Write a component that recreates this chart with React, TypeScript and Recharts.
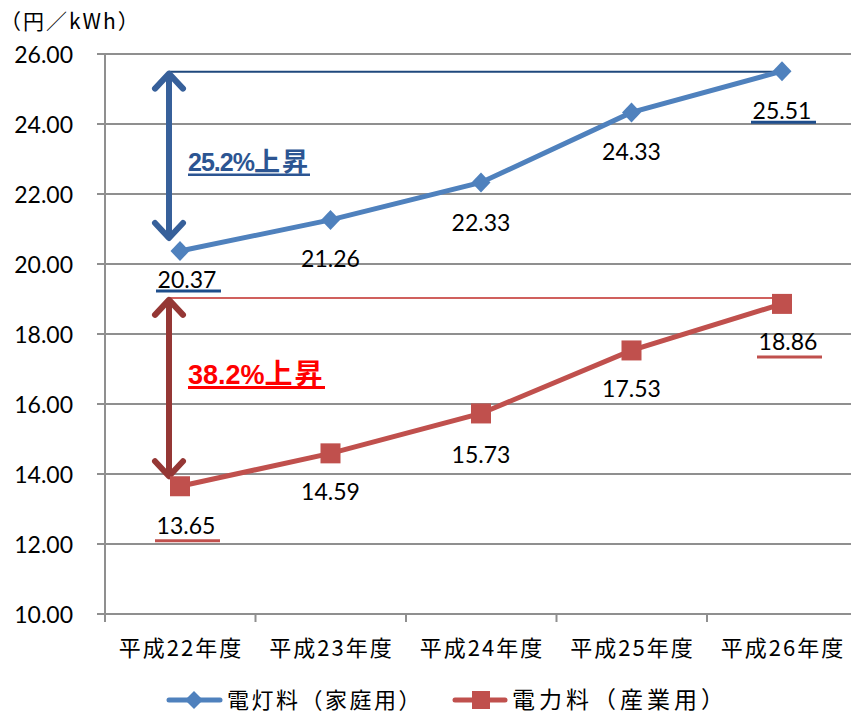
import React from 'react';
import { LineChart, Line, XAxis, YAxis, CartesianGrid, Legend, ReferenceLine } from 'recharts';

// ---- data ----
const categories = ['平成22年度', '平成23年度', '平成24年度', '平成25年度', '平成26年度'];
const residentialRates = [20.37, 21.26, 22.33, 24.33, 25.51];
const industrialRates = [13.65, 14.59, 15.73, 17.53, 18.86];
const yTicks = [10, 12, 14, 16, 18, 20, 22, 24, 26];
const seriesNames = ['電灯料（家庭用）', '電力料（産業用）'];
const unitLabel = '（円／kWh）';
const riseSuffix = '上昇';

const data = categories.map((year, i) => ({
  year,
  residential: residentialRates[i],
  industrial: industrialRates[i],
}));

const pctRise = (arr: number[]) => (((arr[arr.length - 1] / arr[0]) - 1) * 100).toFixed(1) + '%';

// ---- styles ----
const BLUE = '#4F81BD';
const RED = '#C0504D';
const CJK = "'Noto Sans CJK JP', 'Noto Sans', sans-serif";
const NUM = "Lato, 'Liberation Sans', sans-serif";
const GRID = '#8f8f8f';
const X_PAD = 75;

const blueLabelOffsets = [[7, 29], [0, 39], [0, 40], [0, 39], [0, 40]];
const redLabelOffsets = [[6, 39], [0, 38], [0, 41], [0, 38], [6, 37.5]];

const Diamond = (props: any) => {
  const { cx, cy, index } = props;
  if (cx == null || cy == null) return <g key={`d${index}`} />;
  const rx = 9.5, ry = 10;
  return (
    <path key={`d${index}`} d={`M${cx},${cy - ry}L${cx + rx},${cy}L${cx},${cy + ry}L${cx - rx},${cy}Z`} fill={BLUE} />
  );
};

const Square = (props: any) => {
  const { cx, cy, index } = props;
  if (cx == null || cy == null) return <g key={`s${index}`} />;
  const h = 10;
  return <rect key={`s${index}`} x={cx - h} y={cy - h} width={2 * h} height={2 * h} fill={RED} />;
};

const makeLabel = (offsets: number[][], ulColor: string, ulDy: number, count: number) => (props: any) => {
  const { x, y, value, index } = props;
  if (x == null || y == null) return <g />;
  const [dx, dy] = offsets[index] || [0, 39];
  const cx = x + dx;
  const cy = y + dy;
  const underline = index === 0 || index === count - 1;
  return (
    <g key={`l${index}`}>
      <text x={cx} y={cy + 8.3} textAnchor="middle" fontFamily={NUM} fontSize={23} fill="#000">
        {Number(value).toFixed(2)}
      </text>
      {underline && (
        <line x1={cx - 31} x2={cx + 34} y1={cy + ulDy} y2={cy + ulDy} stroke={ulColor} strokeWidth={3} />
      )}
    </g>
  );
};

const YTick = (p: any) => (
  <text x={p.x} y={p.y + 9} textAnchor="end" fontFamily={NUM} fontSize={23} fill="#000">
    {Number(p.payload.value).toFixed(2)}
  </text>
);

const XTick = (p: any) => {
  const { x, y, payload } = p;
  return (
    <g>
      <line x1={x - X_PAD} x2={x - X_PAD} y1={y} y2={y + 8} stroke={GRID} strokeWidth={2} />
      <text x={x + 1} y={y + 32} textAnchor="middle" dominantBaseline="central" fontFamily={CJK} fontSize={22} letterSpacing={2} fill="#000">
        {payload.value}
      </text>
    </g>
  );
};

type ArrowOpts = {
  color: string;
  dx: number;
  topAdj: number;
  botAdj: number;
  textColor: string;
  textDy: number;
  pct: string;
  numSize: number;
  numSpacing: number;
  cjkSize: number;
  ulWidth: number;
  ulDy: number;
  ulStroke: number;
};

const makeArrow = (o: ArrowOpts) => (p: any) => {
  const { x1, y1, y2 } = p;
  if ([x1, y1, y2].some((v) => typeof v !== 'number' || isNaN(v))) return <g />;
  const x = x1 + o.dx;
  const top = Math.min(y1, y2) + o.topAdj;
  const bot = Math.max(y1, y2) + o.botAdj;
  const aw = 14, ah = 17;
  const mid = (top + bot) / 2;
  const by = mid + o.textDy;
  const tx = x + 19;
  return (
    <g>
      <line x1={x} y1={top + 3} x2={x} y2={bot - 3} stroke={o.color} strokeWidth={6} />
      <polyline points={`${x - aw},${top + ah} ${x},${top + 2} ${x + aw},${top + ah}`} fill="none" stroke={o.color} strokeWidth={6} strokeLinecap="round" strokeLinejoin="round" />
      <polyline points={`${x - aw},${bot - ah} ${x},${bot - 2} ${x + aw},${bot - ah}`} fill="none" stroke={o.color} strokeWidth={6} strokeLinecap="round" strokeLinejoin="round" />
      <text x={tx} y={by} fontWeight="bold" fill={o.textColor}>
        <tspan fontFamily="'Liberation Sans', sans-serif" fontSize={o.numSize} letterSpacing={o.numSpacing}>{o.pct}</tspan>
        <tspan fontFamily={CJK} fontSize={o.cjkSize} letterSpacing={2}>{riseSuffix}</tspan>
      </text>
      <line x1={tx} x2={tx + o.ulWidth} y1={by + o.ulDy} y2={by + o.ulDy} stroke={o.textColor} strokeWidth={o.ulStroke} />
    </g>
  );
};

const makeLevel = (color: string, width: number, dxStart: number, dxEnd: number, dy: number) => (p: any) => {
  const { x1, y1, x2, y2 } = p;
  if ([x1, y1, x2, y2].some((v) => typeof v !== 'number' || isNaN(v))) return <g />;
  return <line x1={x1 + dxStart} x2={x2 + dxEnd} y1={y1 + dy} y2={y2 + dy} stroke={color} strokeWidth={width} />;
};

const LegendSvg = () => (
  <svg width={851} height={38} style={{ display: 'block' }}>
    <line x1={169} x2={220} y1={20} y2={20} stroke={BLUE} strokeWidth={5} strokeLinecap="round" />
    <path d="M194,11L203,20L194,29L185,20Z" fill={BLUE} />
    <text x={227} y={18} dominantBaseline="central" fontFamily={CJK} fontSize={22} letterSpacing={2.5} fill="#000">
      {seriesNames[0]}
    </text>
    <line x1={455} x2={505} y1={20} y2={20} stroke={RED} strokeWidth={5} strokeLinecap="round" />
    <rect x={472} y={11} width={18} height={18} fill={RED} />
    <text x={512} y={18} dominantBaseline="central" fontFamily={CJK} fontSize={23} letterSpacing={4} fill="#000">
      {seriesNames[1]}
    </text>
  </svg>
);

export default function App() {
  const first = categories[0];
  const last = categories[categories.length - 1];
  const bLast = residentialRates[residentialRates.length - 1];
  const rLast = industrialRates[industrialRates.length - 1];
  return (
    <div style={{ position: 'absolute', left: 0, top: 0, width: 851, height: 715, overflow: 'hidden', background: '#fff' }}>
      <svg width={220} height={40} style={{ position: 'absolute', left: 0, top: 0 }}>
        <text x={0} y={20} dominantBaseline="central" fontFamily={CJK} fontSize={21} letterSpacing={2} fill="#000">
          {unitLabel}
        </text>
      </svg>
      <div style={{ position: 'absolute', left: 0, top: 0 }}>
        <LineChart width={857} height={715} data={data} margin={{ top: 54, right: 0, bottom: 41, left: 8 }}>
          <CartesianGrid vertical={false} stroke={GRID} strokeWidth={2} />
          <XAxis
            dataKey="year"
            height={60}
            padding={{ left: X_PAD, right: X_PAD }}
            tickLine={false}
            tickSize={0}
            tickMargin={0}
            axisLine={{ stroke: GRID, strokeWidth: 2 }}
            tick={<XTick />}
            interval={0}
          />
          <YAxis
            width={97}
            domain={[10, 26]}
            ticks={yTicks}
            tickSize={8}
            tickMargin={24}
            tickLine={{ stroke: GRID, strokeWidth: 2 }}
            axisLine={{ stroke: GRID, strokeWidth: 2 }}
            tick={<YTick />}
            allowDataOverflow
          />
          <ReferenceLine
            ifOverflow="visible"
            segment={[{ x: first, y: bLast }, { x: last, y: bLast }]}
            shape={makeLevel('#1F497D', 2, -11, 0, 0.5)}
          />
          <ReferenceLine
            ifOverflow="visible"
            segment={[{ x: first, y: rLast }, { x: last, y: rLast }]}
            shape={makeLevel('#D0605D', 2, -11, 2, -6)}
          />
          <ReferenceLine
            ifOverflow="visible"
            segment={[{ x: first, y: bLast }, { x: first, y: residentialRates[0] }]}
            shape={makeArrow({
              color: '#37609A', dx: -11, topAdj: 0.5, botAdj: -11,
              textColor: '#2C5592', textDy: 15, pct: pctRise(residentialRates),
              numSize: 25, numSpacing: -1, cjkSize: 26,
              ulWidth: 122, ulDy: 4, ulStroke: 2.5,
            })}
          />
          <ReferenceLine
            ifOverflow="visible"
            segment={[{ x: first, y: rLast }, { x: first, y: industrialRates[0] }]}
            shape={makeArrow({
              color: '#953735', dx: -11, topAdj: -6, botAdj: -8,
              textColor: '#FF0000', textDy: -4, pct: pctRise(industrialRates),
              numSize: 27, numSpacing: 0, cjkSize: 28,
              ulWidth: 137, ulDy: 3.5, ulStroke: 3,
            })}
          />
          <Line
            type="linear"
            dataKey="residential"
            name={seriesNames[0]}
            stroke={BLUE}
            strokeWidth={5}
            dot={Diamond}
            activeDot={false}
            label={makeLabel(blueLabelOffsets, '#1F4E8C', 11, residentialRates.length)}
            isAnimationActive={false}
          />
          <Line
            type="linear"
            dataKey="industrial"
            name={seriesNames[1]}
            stroke={RED}
            strokeWidth={5}
            dot={Square}
            activeDot={false}
            label={makeLabel(redLabelOffsets, RED, 15.5, industrialRates.length)}
            isAnimationActive={false}
          />
          <Legend
            layout="horizontal"
            verticalAlign="middle"
            align="center"
            wrapperStyle={{ top: 680, left: 0, width: 851, height: 38 }}
            content={() => <LegendSvg />}
          />
        </LineChart>
      </div>
    </div>
  );
}
